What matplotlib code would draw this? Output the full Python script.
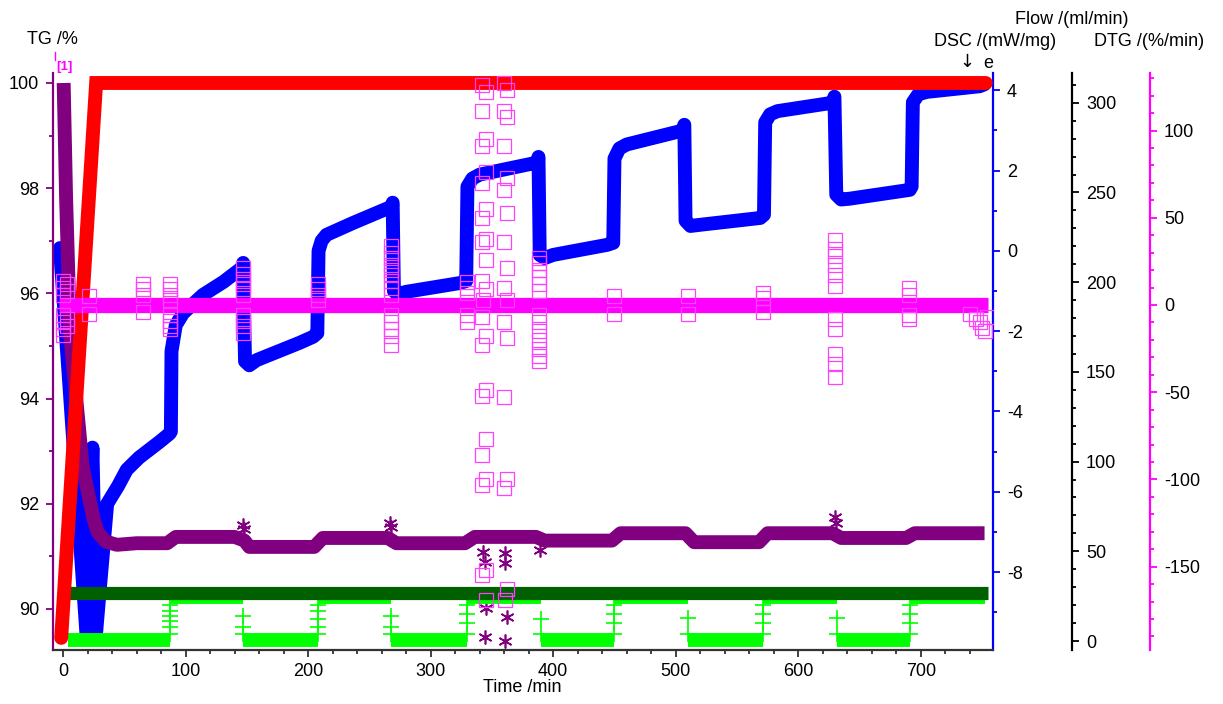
import matplotlib
matplotlib.use("Agg")
import matplotlib.pyplot as plt
from matplotlib.ticker import MultipleLocator
from matplotlib.lines import Line2D

plt.rcParams['font.family'] = ['Liberation Sans', 'DejaVu Sans']
plt.rcParams['axes.unicode_minus'] = False

PURPLE = "#800080"
BLUE = "#0000ff"
RED = "#ff0000"
MAGENTA = "#ff00ff"
DKGREEN = "#006000"
LTGREEN = "#00ff00"

# TG /% (left axis)
tg_t = [0.5, 2.5, 5.7, 16, 25, 28.5, 35, 44, 60, 85, 92, 140, 148, 152, 205, 212, 265, 272,
        328, 336, 386, 393, 448, 455, 508, 515, 568, 575, 628, 635, 688, 695, 752]
tg_v = [100.0, 97.8, 95.25, 92.7, 91.7, 91.45, 91.28, 91.22, 91.25, 91.25, 91.37, 91.37,
        91.3, 91.18, 91.18, 91.35, 91.35, 91.25, 91.25, 91.37, 91.37, 91.3, 91.3, 91.44,
        91.44, 91.27, 91.27, 91.44, 91.44, 91.35, 91.35, 91.44, 91.44]
tg_star_t = [147, 148, 267, 268, 343, 344, 345, 344, 361, 361, 362, 361, 389, 630, 631]
tg_star_v = [91.6, 91.52, 91.63, 91.55, 91.08, 90.9, 90.02, 89.47, 91.06, 90.87, 89.85,
             89.4, 91.12, 91.75, 91.63]

# furnace ramp, drawn in TG units
ramp_t = [-1.5, 27, 753]
ramp_v = [89.45, 100.0, 100.0]

# DSC /(mW/mg)
dsc_t = [-2.5, 19, 24, 27, 29.5, 36, 45, 52, 62, 79, 87, 88, 88.5, 92, 98, 114, 131, 146,
         147, 148.5, 152, 158, 193, 204, 207.5, 208.5, 211, 215, 237, 268, 269, 270, 273,
         280, 324, 329, 330, 334, 340, 387, 388, 389, 393, 400, 444, 449, 450, 454, 460,
         506, 507, 508, 512, 520, 569, 572, 573, 577, 583, 628, 629.5, 631, 635, 642, 691,
         692.5, 693.5, 698, 705, 748, 752]
dsc_v = [0.07, -9.5, -4.9, -9.5, -8.6, -6.3, -5.85, -5.45, -5.15, -4.75, -4.55, -4.5, -2.5,
         -1.85, -1.55, -1.1, -0.77, -0.42, -0.3, -2.75, -2.85, -2.72, -2.29, -2.14, -2.05,
         0.0, 0.25, 0.4, 0.7, 1.1, 1.2, -1.0, -1.08, -1.02, -0.8, -0.75, 1.6, 1.8, 1.9, 2.2,
         2.34, -0.1, -0.18, -0.1, 0.15, 0.2, 2.3, 2.55, 2.65, 3.0, 3.14, 0.75, 0.62, 0.65,
         0.82, 0.9, 3.2, 3.4, 3.48, 3.69, 3.84, 1.4, 1.28, 1.3, 1.52, 1.6, 3.7, 3.9, 3.96,
         4.1, 4.15]

# Flow /(ml/min)
purge_t = [-3, 755]
purge_v = [26.5, 26.5]
prot_switch = [4, 87, 147, 208, 268, 330, 390, 450, 510, 571, 632, 691, 752]
prot_level = [0.6, 24.5, 0.6, 24.5, 0.6, 24.5, 0.6, 24.5, 0.6, 24.5, 0.6, 24.5]
prot_step_t = [87, 87, 87, 87, 87, 87, 147, 147, 147, 208, 208, 208, 208, 208, 268, 268,
               268, 330, 330, 330, 330, 390, 390, 450, 450, 450, 450, 510, 510, 571, 571,
               571, 571, 632, 632, 691, 691, 691, 691]
prot_step_v = [20, 17, 14, 11, 8, 4, 14, 8, 4, 20, 17, 12, 8, 4, 14, 8, 4, 20, 15, 10, 4,
               12, 4, 20, 15, 10, 4, 13, 4, 20, 15, 10, 4, 13, 4, 20, 15, 10, 4]

# DTG /(%/min)
dtg_t = [-3, 755]
dtg_v = [0, 0]
dtg_sq_t = ([0] * 7 + [3] * 4 + [21] * 2 + [65] * 4 + [87] * 8 + [147] * 10 + [208] * 4
            + [268] * 14 + [330] * 5
            + [342, 345] * 13 + [343]
            + [360, 362] * 9 + [361]
            + [388] * 13 + [450] * 2 + [510] * 2 + [571] * 3 + [630] * 11 + [690] * 4
            + [740, 745, 748, 750, 752, 754])
dtg_sq_v = ([14, 10, 6, -6, -10, -14, -17] + [12, 8, -8, -12] + [5, -5] + [12, 9, 6, -4]
            + [12, 9, 6, 3, -6, -9, -12, -14]
            + [21, 18, 15, 12, 9, 6, -6, -9, -12, -16]
            + [12, 9, 6, 3]
            + [34, 30, 27, 23, 20, 17, 14, 10, 6, -6, -10, -14, -18, -23]
            + [13, 10, 7, -6, -10]
            + [126, 122, 111, 95, 91, 76, 70, 55, 50, 38, 36, 26, 14, 9, -7, -18, -23, -49,
               -52, -77, -86, -100, -103, -152, -155, -169, 3]
            + [127, 123, 111, 108, 91, 73, 66, 53, 36, 21, 10, 3, -10, -19, -53, -100, -105,
               -163, -169]
            + [27, 24, 20, 16, 12, 8, -6, -10, -15, -20, -25, -29, -32]
            + [5, -5] + [5, -5] + [7, 4, -4]
            + [37, 32, 28, 23, 17, 11, -8, -14, -28, -34, -41]
            + [10, 6, -6, -8]
            + [-5, -8, -10, -13, -15, -7])

W, H = 1223, 704
fig = plt.figure(figsize=(W / 100, H / 100), dpi=100)
ax = fig.add_axes([53 / W, 54 / H, 940 / W, 577 / H])
ax_dsc = ax.twinx()
ax_ramp = ax.twinx()
ax_flow = ax.twinx()
ax_dtg = ax.twinx()

# stacking: DSC under TG under flows under ramp under DTG
for z, a in enumerate([ax_dsc, ax, ax_flow, ax_ramp, ax_dtg]):
    a.set_zorder(z + 1)
    a.patch.set_visible(False)

xlim = (-8.2, 758.9)
for a in (ax, ax_dsc, ax_ramp, ax_flow, ax_dtg):
    a.set_xlim(*xlim)

ax.set_ylim(89.22, 100.19)
ax_ramp.set_ylim(89.22, 100.19)
ax_dsc.set_ylim(-9.94, 4.43)
ax_flow.set_ylim(-5.0, 316.6)
ax_dtg.set_ylim(-197.8, 133.0)

lw = 10
ax_dsc.plot(dsc_t, dsc_v, color=BLUE, lw=lw, solid_joinstyle='round', solid_capstyle='round')
ax.plot(tg_t, tg_v, color=PURPLE, lw=lw, solid_joinstyle='round', solid_capstyle='butt')
ax.plot(tg_star_t, tg_star_v, ls='none', marker=(6, 2, 0), ms=10, mec=PURPLE, mew=1.2)

ax_flow.hlines(prot_level, prot_switch[:-1], prot_switch[1:], color=LTGREEN, lw=10)
ax_flow.plot(prot_step_t, prot_step_v, ls='none', marker='+', ms=11, mec=LTGREEN, mew=1.2)
ax_flow.plot(purge_t, purge_v, color=DKGREEN, lw=9.5, solid_capstyle='butt')

ax_ramp.plot(ramp_t, ramp_v, color=RED, lw=lw, solid_joinstyle='miter', solid_capstyle='round')
ax_ramp.axis('off')

ax_dtg.plot(dtg_t, dtg_v, color=MAGENTA, lw=11, solid_capstyle='butt')
ax_dtg.plot(dtg_sq_t, dtg_sq_v, ls='none', marker='s', ms=9.5, mfc='none', mec='#ff40ff',
            mew=0.9)

# spines (outward offsets are in points: 79 px and 157 px at 100 dpi)
ax.spines['top'].set_visible(False)
ax.spines['right'].set_visible(False)
ax.spines['left'].set_color(PURPLE)
ax.spines['bottom'].set_color('#333333')
for a in (ax_dsc, ax_flow, ax_dtg):
    for s in ('top', 'left', 'bottom'):
        a.spines[s].set_visible(False)
ax_dsc.spines['right'].set_color(BLUE)
ax_flow.spines['right'].set_color('black')
ax_flow.spines['right'].set_position(('outward', 79 * 0.72))
ax_dtg.spines['right'].set_color(MAGENTA)
ax_dtg.spines['right'].set_position(('outward', 157 * 0.72))
for a in (ax, ax_dsc, ax_flow, ax_dtg):
    for s in a.spines.values():
        s.set_linewidth(1.6)

# ticks
ax.xaxis.set_major_locator(MultipleLocator(100))
ax.xaxis.set_minor_locator(MultipleLocator(20))
ax.yaxis.set_major_locator(MultipleLocator(2))
ax.yaxis.set_minor_locator(MultipleLocator(1))
ax_dsc.yaxis.set_major_locator(MultipleLocator(2))
ax_dsc.yaxis.set_minor_locator(MultipleLocator(1))
for a in (ax_flow, ax_dtg):
    a.yaxis.set_major_locator(MultipleLocator(50))
    a.yaxis.set_minor_locator(MultipleLocator(10))

ax.tick_params(axis='x', which='both', colors='#333333', labelcolor='black', labelsize=13,
               width=1.3)
ax.tick_params(axis='x', which='major', length=5, pad=4)
ax.tick_params(axis='x', which='minor', length=3)
for a, c in ((ax, PURPLE), (ax_dsc, BLUE), (ax_flow, 'black'), (ax_dtg, MAGENTA)):
    a.tick_params(axis='y', which='both', colors=c, labelcolor='black', labelsize=13,
                  width=1.3)
    a.tick_params(axis='y', which='major', length=5, pad=5)
    a.tick_params(axis='y', which='minor', length=3)
for a in (ax_dsc, ax_flow, ax_dtg):
    a.tick_params(axis='x', which='both', bottom=False, labelbottom=False)

# axis titles
def ftext(x, y, s, size=13, **kw):
    fig.text(x / W, 1 - y / H, s, ha='center', va='center', fontsize=size, **kw)

ftext(52, 40, "TG /%")
ftext(1072, 19, "Flow /(ml/min)")
ftext(995, 41, "DSC /(mW/mg)")
ftext(1149, 41, "DTG /(%/min)")
ftext(967, 62, "\u2193", family=['DejaVu Sans'])
ftext(988, 63, "e")
ftext(522, 688, "Time /min")
ftext(64, 67, "[1]", size=9.5, color=MAGENTA, fontweight='bold')
fig.add_artist(Line2D([55 / W, 55 / W], [1 - 52 / H, 1 - 60 / H], color=MAGENTA, lw=1,
                      transform=fig.transFigure))

fig.savefig("out.png", dpi=100, facecolor='white')
